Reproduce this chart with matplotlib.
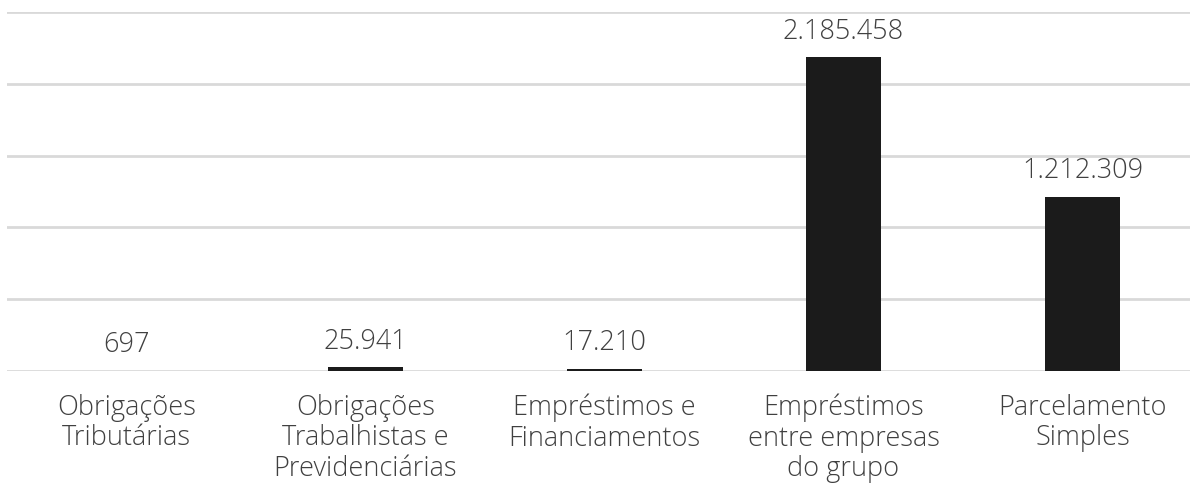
import matplotlib
matplotlib.use("Agg")
import matplotlib.pyplot as plt

categories = ["Obrigações\nTributárias",
              "Obrigações\nTrabalhistas e\nPrevidenciárias",
              "Empréstimos e\nFinanciamentos",
              "Empréstimos\nentre empresas\ndo grupo",
              "Parcelamento\nSimples"]
values = [697, 25941, 17210, 2185458, 1212309]
yticks = [0, 500000, 1000000, 1500000, 2000000, 2500000]

def fmt(v):
    return f"{v:,}".replace(",", ".")

plt.rcParams['font.family'] = ['Open Sans', 'DejaVu Sans']
text_color = '#404040'

fig = plt.figure(figsize=(11.96, 4.85), dpi=100)
ax = fig.add_axes([7/1196, 0.233, 1183/1196, 0.740])
x = list(range(len(categories)))
ax.bar(x, values, width=0.314, color='#1b1b1b', zorder=3)
ax.set_xlim(-0.5, len(categories) - 0.55)
ax.set_ylim(0, yticks[-1])
ax.set_yticks(yticks)
ax.yaxis.grid(True, color='#d9d9d9', linewidth=2, zorder=0)
ax.tick_params(axis='y', left=False, labelleft=False)
ax.tick_params(axis='x', bottom=False, pad=12, labelsize=19.5, labelcolor=text_color)
ax.set_xticks(x)
ax.set_xticklabels(categories, fontweight='light', linespacing=1.12)
for s in ax.spines.values():
    s.set_visible(False)
for xi, v in zip(x, values):
    ax.annotate(fmt(v), (xi, v), xytext=(0, 9), textcoords='offset points',
                ha='center', va='bottom', fontsize=19.5, color=text_color,
                fontweight='light')
fig.savefig("out.png", dpi=100)
